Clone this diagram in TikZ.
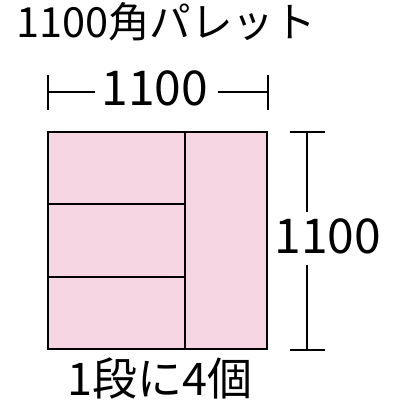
\documentclass[tikz,border=0pt]{standalone}
\usepackage{fontspec}
\setmainfont{Noto Sans CJK JP}
\definecolor{pal}{RGB}{246,214,226}
\begin{document}
\begin{tikzpicture}[x=1pt,y=-1pt,
  box/.style={draw=black, fill=pal, line width=2.6pt},
  dim/.style={draw=black, line width=1.8pt},
  lbl/.style={inner sep=0pt, font=\fontsize{48}{48}\selectfont}]
\useasboundingbox (0,0) rectangle (400,400);
\fill[white] (0,0) rectangle (400,400);
% boxes
\draw[box] (48,132) rectangle (185,204);
\draw[box] (48,204) rectangle (185,277);
\draw[box] (48,277) rectangle (185,349);
\draw[box] (185,132) rectangle (267,349);
% texts
\node[lbl, anchor=west, font=\fontsize{41.5}{41.5}\selectfont] (title) at (16,22) {1100角パレット};
\node[lbl] (top) at (155,88) {1100};
\node[lbl] (right) at (328,236) {1100};
\node[lbl, font=\fontsize{45}{45}\selectfont] (bottom) at (160,378) {1段に4個};
% top dimension
\coordinate (tl) at (48,92);
\coordinate (tle) at (95,92);
\coordinate (tre) at (218,92);
\coordinate (tr) at (268,92);
\draw[dim] (48,75) -- (48,110);
\draw[dim] (268,75) -- (268,110);
\draw[dim] (tl) -- (tle);
\draw[dim] (tre) -- (tr);
% right dimension
\coordinate (rt) at (307,132);
\coordinate (rte) at (307,212);
\coordinate (rbe) at (307,265);
\coordinate (rb) at (307,350);
\draw[dim] (290,132) -- (325,132);
\draw[dim] (290,350) -- (325,350);
\draw[dim] (rt) -- (rte);
\draw[dim] (rbe) -- (rb);
\end{tikzpicture}
\end{document}
